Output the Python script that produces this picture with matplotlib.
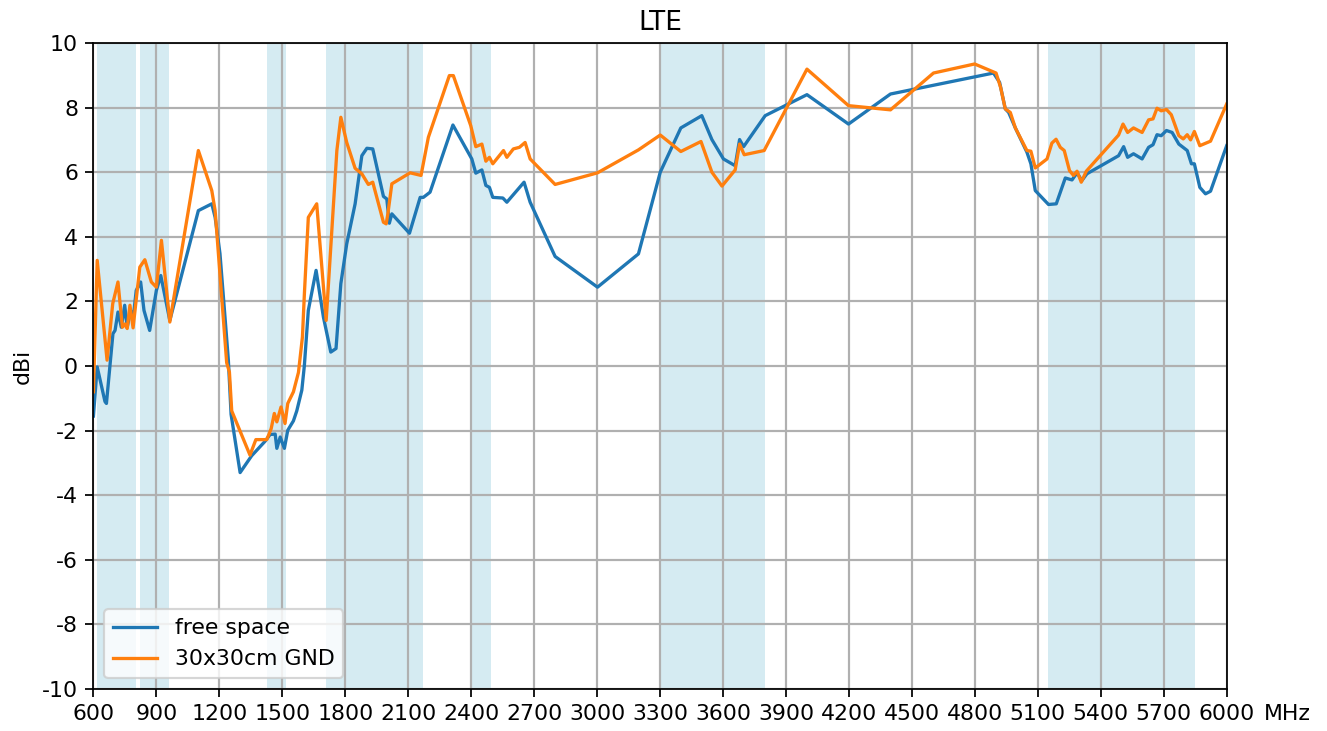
import matplotlib
matplotlib.use("Agg")
import matplotlib.pyplot as plt
import numpy as np

plt.rcParams["axes.unicode_minus"] = False

# Frequency bands (MHz) shaded in the background
band_starts = [617, 824, 1427, 1710, 2400, 3300, 5150]
band_ends = [803, 960, 1518, 2170, 2496, 3800, 5850]

# free space
freq_fs = [600, 618, 655, 662, 693, 703, 717, 733, 749, 761, 777, 790, 804, 825, 841, 868,
           900, 921, 964, 1100, 1164, 1180, 1203, 1227, 1243, 1256, 1299, 1354, 1418, 1442,
           1466, 1474, 1490, 1510, 1526, 1553, 1569, 1593, 1605, 1624, 1661, 1696, 1731, 1756,
           1779, 1807, 1847, 1879, 1903, 1931, 1982, 1998, 2010, 2022, 2106, 2157, 2172, 2204,
           2313, 2403, 2422, 2451, 2470, 2487, 2503, 2551, 2570, 2652, 2681, 2800, 3002, 3197,
           3301, 3399, 3499, 3547, 3602, 3658, 3679, 3698, 3801, 4000, 4198, 4398, 4889, 4918,
           4945, 4961, 4993, 5048, 5067, 5088, 5151, 5188, 5231, 5263, 5287, 5310, 5334, 5485,
           5509, 5528, 5556, 5597, 5628, 5649, 5668, 5688, 5713, 5740, 5772, 5812, 5832, 5846,
           5872, 5899, 5923, 6000]
gain_fs = [-1.55, -0.03, -1.1, -1.16, 1.0, 1.1, 1.67, 1.2, 1.88, 1.2, 1.72, 1.51, 2.34, 2.6, 1.72, 1.1,
           2.34, 2.8, 1.41, 4.81, 5.02, 4.6, 3.48, 1.51, 0.18, -1.5, -3.3, -2.78, -2.33, -2.12,
           -2.11, -2.55, -2.2, -2.55, -1.99, -1.7, -1.39, -0.75, 0.0, 1.72, 2.96, 1.51, 0.43, 0.54,
           2.55, 3.78, 5.02, 6.51, 6.74, 6.72, 5.25, 5.17, 4.42, 4.71, 4.11, 5.22, 5.22, 5.38,
           7.46, 6.41, 5.97, 6.07, 5.59, 5.53, 5.22, 5.2, 5.07, 5.69, 5.07, 3.39, 2.44, 3.47,
           6.0, 7.37, 7.75, 7.01, 6.41, 6.2, 7.01, 6.79, 7.75, 8.4, 7.49, 8.42, 9.07, 8.78,
           7.96, 7.85, 7.37, 6.62, 6.26, 5.43, 5.0, 5.02, 5.82, 5.76, 5.98, 5.74, 5.95, 6.51,
           6.79, 6.46, 6.57, 6.41, 6.77, 6.85, 7.16, 7.13, 7.29, 7.23, 6.87, 6.67, 6.26, 6.26,
           5.53, 5.33, 5.41, 6.82]

# 30x30cm GND
freq_gnd = [600, 618, 665, 692, 717, 738, 750, 761, 774, 789, 821, 845, 876, 900, 924, 964,
            1100, 1164, 1180, 1235, 1248, 1259, 1346, 1374, 1426, 1447, 1462, 1474, 1494, 1513,
            1526, 1553, 1577, 1596, 1605, 1624, 1664, 1709, 1760, 1779, 1807, 1847, 1879, 1910,
            1931, 1982, 1995, 2003, 2022, 2109, 2161, 2196, 2296, 2315, 2398, 2422, 2451, 2470,
            2487, 2503, 2554, 2570, 2601, 2630, 2657, 2681, 2800, 3002, 3197, 3301, 3399, 3495,
            3547, 3595, 3658, 3679, 3701, 3796, 4000, 4198, 4398, 4603, 4799, 4901, 4923, 4945,
            4969, 4993, 5048, 5067, 5088, 5144, 5167, 5187, 5207, 5226, 5251, 5270, 5287, 5307,
            5331, 5485, 5506, 5528, 5556, 5597, 5628, 5649, 5668, 5688, 5713, 5736, 5772, 5793,
            5812, 5828, 5846, 5872, 5923, 6000]
gain_gnd = [-0.8, 3.27, 0.18, 1.93, 2.6, 1.2, 1.3, 1.16, 1.88, 1.18, 3.06, 3.29, 2.6, 2.44, 3.89, 1.36,
            6.67, 5.43, 4.81, 0.1, -0.19, -1.39, -2.76, -2.28, -2.28, -1.94, -1.47, -1.73, -1.27, -1.78,
            -1.16, -0.8, -0.2, 0.9, 2.2, 4.6, 5.02, 1.41, 6.67, 7.7, 6.92, 6.12, 5.95, 5.62,
            5.69, 4.45, 4.4, 4.71, 5.64, 5.98, 5.9, 7.08, 8.99, 8.99, 7.44, 6.79, 6.87, 6.34,
            6.46, 6.26, 6.67, 6.46, 6.72, 6.77, 6.92, 6.41, 5.62, 5.98, 6.69, 7.15, 6.64, 6.95,
            6.0, 5.57, 6.07, 6.87, 6.54, 6.67, 9.19, 8.06, 7.93, 9.07, 9.35, 9.07, 8.62, 7.96,
            7.85, 7.37, 6.67, 6.65, 6.13, 6.41, 6.9, 7.02, 6.77, 6.67, 6.05, 5.9, 6.03, 5.69,
            6.03, 7.15, 7.49, 7.23, 7.37, 7.23, 7.62, 7.65, 7.98, 7.9, 7.94, 7.78, 7.13, 7.03,
            7.16, 7.0, 7.26, 6.82, 6.96, 8.11]

x_ticks = list(range(600, 6001, 300))
y_ticks = list(range(-10, 11, 2))

DPI = 158
fig = plt.figure(figsize=(1327 / DPI, 731 / DPI), dpi=DPI)
ax = fig.add_axes([0.0704, 0.0575, 0.854, 0.8837])

for s, e in zip(band_starts, band_ends):
    ax.axvspan(s, e, color="lightblue", alpha=0.5, linewidth=0)

ax.plot(freq_fs, gain_fs, color="#1f77b4", linewidth=1.5, label="free space")
ax.plot(freq_gnd, gain_gnd, color="#ff7f0e", linewidth=1.5, label="30x30cm GND")

ax.set_xlim(600, 6000)
ax.set_ylim(-10, 10)
ax.set_xticks(x_ticks)
ax.set_yticks(y_ticks)
ax.grid(True, color="#b0b0b0", linewidth=1.0)
ax.set_title("LTE")
ax.set_ylabel("dBi")
ax.annotate("MHz", xy=(1, 0), xycoords="axes fraction", xytext=(16.9, -7),
            textcoords="offset points", ha="left", va="top", fontsize=10)
ax.legend(loc="lower left")

fig.savefig("out.png", dpi=DPI)
